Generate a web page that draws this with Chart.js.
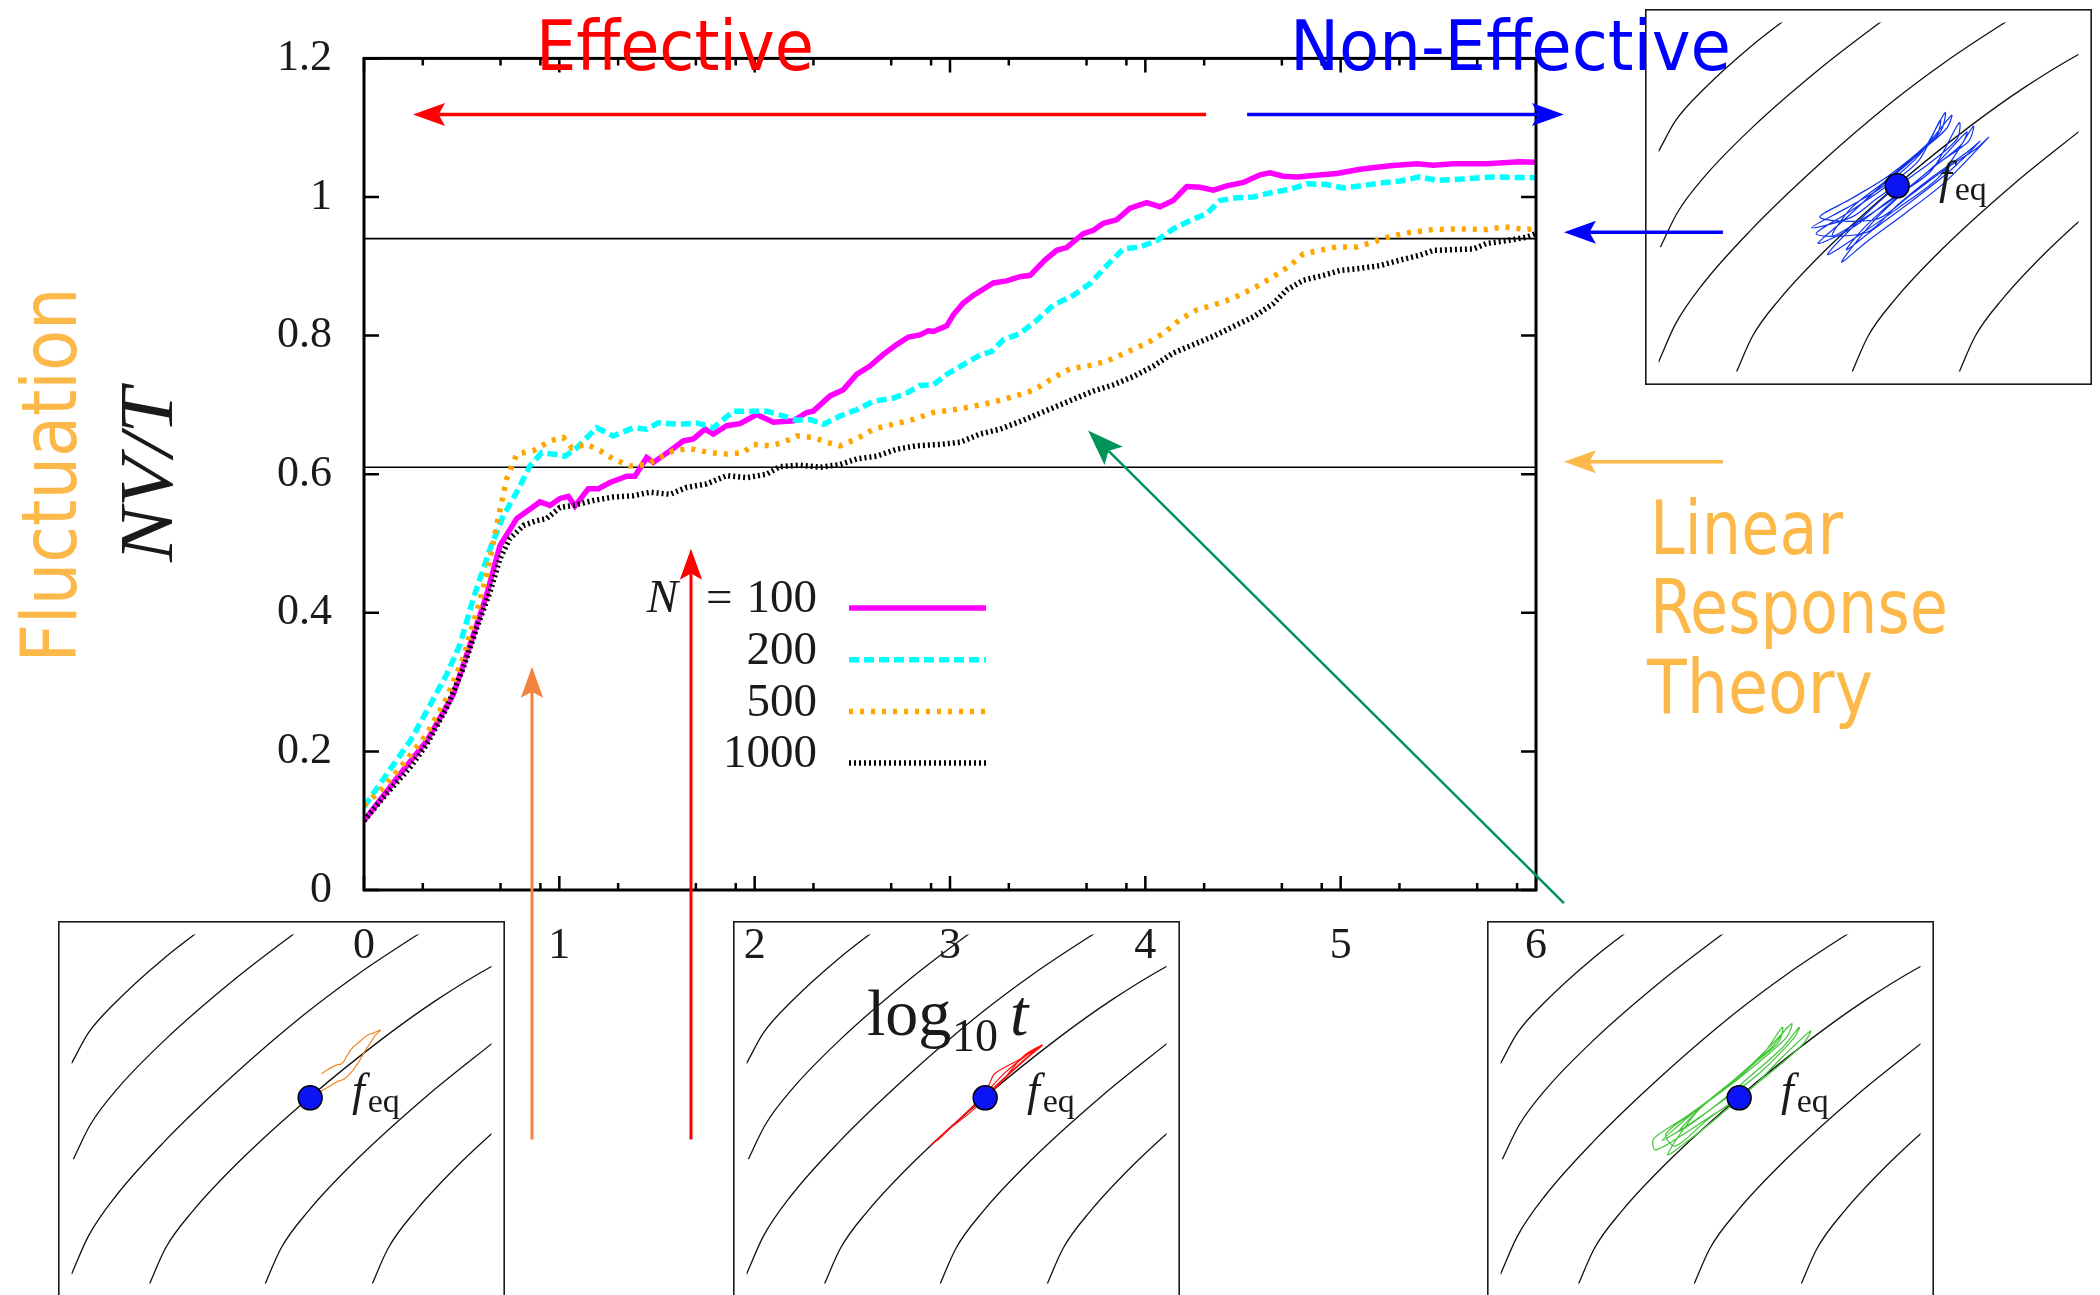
<!DOCTYPE html>
<html>
<head>
<meta charset="utf-8">
<script src="https://cdn.jsdelivr.net/npm/chart.js@4.4.1/dist/chart.umd.min.js"></script>
<style>
  html, body { margin: 0; padding: 0; background: #fff; }
  #page { position: relative; width: 2100px; height: 1295px; overflow: hidden; background: #fff; }
  .inset { position: absolute; z-index: 1; }
  #main { position: absolute; left: 0; top: 0; z-index: 2; }
  #notes { position: absolute; left: 0; top: 0; z-index: 3; pointer-events: none; }
</style>
</head>
<body>
<div id="page">
  <canvas id="main" width="2100" height="1295"></canvas>
  <svg id="notes" width="2100" height="1295" xmlns="http://www.w3.org/2000/svg">
    <g font-family="'DejaVu Sans Condensed','DejaVu Sans',sans-serif" style="font-stretch:condensed">
      <text x="536" y="70" font-size="70" fill="#ff0000" textLength="278" lengthAdjust="spacingAndGlyphs">Effective</text>
      <text x="1290" y="70" font-size="70" fill="#0000ff" textLength="441" lengthAdjust="spacingAndGlyphs">Non-Effective</text>
      <text transform="translate(76,475) rotate(-90)" text-anchor="middle" font-size="76" fill="#fcb94a" textLength="375" lengthAdjust="spacingAndGlyphs">Fluctuation</text>
      <text x="1650" y="554" font-size="75" fill="#fcb94a" textLength="193" lengthAdjust="spacingAndGlyphs">Linear</text>
      <text x="1650" y="633" font-size="75" fill="#fcb94a" textLength="298" lengthAdjust="spacingAndGlyphs">Response</text>
      <text x="1647" y="713" font-size="75" fill="#fcb94a" textLength="226" lengthAdjust="spacingAndGlyphs">Theory</text>
    </g>
    <g font-family="'Liberation Serif',serif" fill="#1a1a1a">
      <text transform="translate(172,475) rotate(-90)" text-anchor="middle" font-size="76" font-style="italic" textLength="174" lengthAdjust="spacingAndGlyphs">NV/T</text>
      <text x="867" y="1035" font-size="66">log</text>
      <text x="952" y="1051" font-size="46">10</text>
      <text x="1010" y="1035" font-size="66" font-style="italic">t</text>
    </g>
    <g id="feq" font-family="'Liberation Serif',serif" fill="#1a1a1a"></g>
  </svg>
</div>
<script>
// x = log10 t, y = NV/T
const n100 = [[0,.100],[.184,.167],[.321,.215],[.457,.282],[.560,.368],[.628,.426],[.696,.497],[.782,.536],[.901,.560],[.952,.555],[1.003,.565],[1.046,.568],[1.080,.554],[1.148,.579],[1.200,.579],[1.259,.588],[1.345,.597],[1.387,.597],[1.447,.624],[1.481,.617],[1.567,.634],[1.635,.648],[1.686,.651],[1.746,.665],[1.788,.658],[1.857,.670],[1.925,.673],[2.010,.686],[2.096,.675],[2.198,.677],[2.266,.689],[2.300,.691],[2.386,.713],[2.454,.722],[2.522,.744],[2.590,.756],[2.659,.773],[2.727,.787],[2.787,.798],[2.846,.801],[2.889,.807],[2.915,.806],[2.983,.814],[3.017,.830],[3.068,.847],[3.119,.858],[3.222,.876],[3.290,.879],[3.358,.885],[3.410,.887],[3.486,.909],[3.546,.923],[3.597,.927],[3.682,.947],[3.734,.952],[3.785,.962],[3.853,.967],[3.922,.984],[4.007,.992],[4.075,.986],[4.143,.995],[4.212,1.015],[4.280,1.014],[4.348,1.010],[4.417,1.016],[4.502,1.021],[4.587,1.032],[4.638,1.035],[4.706,1.030],[4.775,1.029],[4.860,1.031],[4.980,1.034],[5.099,1.040],[5.253,1.045],[5.389,1.048],[5.474,1.046],[5.577,1.048],[5.748,1.048],[5.918,1.051],[6.0,1.050]];
const n200 = [[0,.120],[.116,.167],[.236,.215],[.321,.258],[.423,.311],[.491,.354],[.560,.421],[.645,.492],[.713,.540],[.782,.574],[.850,.612],[.909,.631],[.969,.629],[1.029,.626],[1.089,.638],[1.191,.667],[1.276,.655],[1.379,.667],[1.447,.665],[1.507,.674],[1.618,.672],[1.703,.674],[1.788,.667],[1.891,.691],[1.976,.691],[2.061,.691],[2.147,.684],[2.215,.678],[2.283,.679],[2.352,.672],[2.437,.684],[2.522,.693],[2.607,.705],[2.710,.710],[2.778,.717],[2.846,.728],[2.915,.729],[2.983,.744],[3.068,.758],[3.154,.772],[3.213,.777],[3.273,.794],[3.358,.803],[3.444,.822],[3.529,.844],[3.631,.858],[3.717,.875],[3.802,.901],[3.887,.925],[3.973,.928],[4.058,.937],[4.143,.954],[4.229,.966],[4.314,.976],[4.382,.995],[4.468,.999],[4.553,1.0],[4.655,1.007],[4.741,1.011],[4.826,1.019],[4.929,1.018],[5.014,1.013],[5.099,1.016],[5.201,1.020],[5.304,1.023],[5.406,1.029],[5.491,1.024],[5.628,1.026],[5.782,1.029],[5.918,1.028],[6.0,1.028]];
const n500 = [[0,.122],[.082,.143],[.201,.182],[.321,.225],[.423,.277],[.508,.335],[.577,.402],[.628,.454],[.679,.526],[.730,.593],[.782,.629],[.867,.634],[.952,.648],[1.020,.653],[1.063,.638],[1.140,.643],[1.208,.634],[1.276,.622],[1.362,.612],[1.447,.614],[1.515,.624],[1.584,.634],[1.669,.637],[1.771,.631],[1.857,.629],[1.942,.631],[1.993,.643],[2.078,.641],[2.147,.646],[2.215,.655],[2.300,.653],[2.369,.646],[2.437,.641],[2.522,.651],[2.607,.665],[2.710,.672],[2.812,.679],[2.915,.689],[3.017,.693],[3.119,.698],[3.222,.704],[3.324,.712],[3.427,.721],[3.529,.739],[3.614,.752],[3.717,.757],[3.802,.763],[3.905,.776],[4.007,.789],[4.092,.803],[4.177,.823],[4.263,.837],[4.348,.844],[4.450,.854],[4.553,.868],[4.655,.885],[4.741,.901],[4.809,.918],[4.894,.923],[4.980,.928],[5.082,.928],[5.168,.935],[5.253,.943],[5.355,.949],[5.474,.953],[5.611,.954],[5.748,.953],[5.833,.957],[5.952,.953],[6.0,.955]];
const n1000 = [[0,.100],[.116,.139],[.236,.177],[.321,.210],[.423,.263],[.508,.320],[.577,.378],[.645,.430],[.696,.478],[.747,.507],[.816,.526],[.884,.533],[.935,.536],[1.003,.552],[1.072,.555],[1.174,.562],[1.276,.567],[1.379,.569],[1.464,.574],[1.567,.571],[1.652,.581],[1.754,.586],[1.857,.598],[1.959,.595],[2.061,.600],[2.130,.611],[2.232,.613],[2.335,.610],[2.437,.614],[2.522,.622],[2.624,.626],[2.727,.636],[2.829,.641],[2.949,.643],[3.051,.646],[3.154,.658],[3.256,.665],[3.358,.676],[3.444,.686],[3.529,.696],[3.631,.708],[3.734,.720],[3.836,.729],[3.939,.741],[4.041,.756],[4.143,.775],[4.246,.787],[4.348,.799],[4.450,.813],[4.553,.827],[4.655,.846],[4.724,.866],[4.809,.880],[4.912,.887],[4.997,.894],[5.099,.897],[5.201,.901],[5.304,.909],[5.406,.916],[5.474,.923],[5.577,.924],[5.679,.925],[5.748,.933],[5.850,.937],[5.952,.942],[6.0,.947]];

const sizes = [100, 200, 500, 1000];
const series = [n100, n200, n500, n1000];
const theoryLevels = [0.94, 0.61];
const xTicks = [0, 1, 2, 3, 4, 5, 6];
const minorSteps = [2, 5, 8];

const lineColors = ['#ff00ff', '#00ffff', '#ffa500', '#000000'];
const lineDashes = [[], [10, 5], [4, 7], [2, 3]];

// annotation arrows, in data units of the main axes
const arrowNotes = [
  { from: [4.311, 1.119], to: [0.251, 1.119], color: '#ff0000', width: 3.5, head: 32 },
  { from: [4.521, 1.119], to: [6.143, 1.119], color: '#0000ff', width: 3.5, head: 32 },
  { from: [6.957, 0.949], to: [6.143, 0.949], color: '#0000ff', width: 3.5, head: 32 },
  { from: [6.957, 0.618], to: [6.143, 0.618], color: '#fcb94a', width: 3.5, head: 32 },
  { from: [6.143, -0.019], to: [3.707, 0.663], color: '#00935a', width: 2.5, head: 36 },
  { from: [0.860, -0.360], to: [0.860, 0.322], color: '#f3843f', width: 3, head: 31 },
  { from: [1.674, -0.360], to: [1.674, 0.4925], color: '#ff0000', width: 3, head: 31 }
];

// inset: level curves and trajectories, local px of a 447x376 box (y down)
const contours = [
  [[0,139],[18,106],[47,73],[98,26],[172,-31]],
  [[2,242],[20,205],[49,166],[100,113],[174,48],[250,-11]],
  [[0,366],[18,325],[47,282],[98,224],[172,152],[248,86],[306,42],[364,3],[400,-20]],
  [[82,379],[100,338],[129,298],[180,243],[254,175],[330,113],[388,71],[446,35],[502,7]],
  [[205,379],[223,338],[252,298],[303,243],[377,175],[453,113]],
  [[319,379],[337,338],[366,298],[417,243],[491,175]]
];
const fEq = [[254, 176]];
const blueTrail = [[254,174],[232,190],[205,210],[163,221],[200,200],[240,176],[280,140],[305,97],[300,118],[270,148],[235,178],[195,215],[170,238],[205,222],[245,192],[290,160],[320,108],[318,125],[288,152],[250,180],[215,212],[180,250],[215,228],[255,200],[300,165],[335,112],[330,128],[300,150],[262,182],[228,215],[195,258],[222,236],[262,206],[305,172],[351,124],[338,136],[305,158],[268,186],[232,212],[172,210],[205,190],[245,165],[285,132],[312,100],[306,115],[275,142],[240,172],[205,200],[185,230],[220,210],[258,184],[296,152],[328,118],[322,132],[290,158],[252,190],[218,222],[200,245],[230,222],[270,192],[310,160],[342,128],[328,140],[292,166],[255,196],[222,226],[168,228],[200,206],[238,180],[276,150],[300,105],[296,122],[266,150],[232,180],[198,212],[190,215]];
const orangeTrail = [[258,173],[272,165],[284,158],[290,156],[299,147],[306,137],[312,126],[318,117],[323,109],[329,103],[322,106],[314,109],[306,116],[299,122],[293,131],[288,139],[281,141],[272,146],[266,150]];
const redTrail = [[254,177],[280,150],[300,132],[315,119],[296,130],[270,160],[240,190],[215,210],[196,227],[220,205],[248,178],[276,148],[306,124],[312,121],[290,135],[264,150],[258,162],[240,186],[210,214],[203,222],[230,196],[262,166],[290,140],[314,119]];
const greenTrail = [[254,177],[225,195],[195,215],[165,232],[163,220],[195,198],[230,172],[265,142],[292,115],[310,96],[305,110],[278,135],[245,162],[210,190],[178,237],[200,222],[232,196],[268,165],[300,132],[330,104],[322,118],[292,145],[258,172],[222,198],[186,228],[176,215],[208,190],[245,160],[280,128],[300,100],[296,116],[266,142],[232,170],[196,200],[172,222],[200,205],[238,178],[275,150],[312,112],[318,100],[300,122],[262,156],[228,185],[190,212],[215,185],[252,155],[290,120],[305,100]];

const insets = [
  { left: 1645, top: 9, trail: blueTrail, color: '#1133ee' },
  { left: 58, top: 921, trail: orangeTrail, color: '#f08a24' },
  { left: 733, top: 921, trail: redTrail, color: '#ff1010' },
  { left: 1487, top: 921, trail: greenTrail, color: '#44c638' }
];

const toXY = arr => arr.map(([x, y]) => ({ x, y }));
const serif = "'Liberation Serif', serif";

const frame = {
  id: 'frame',
  afterDatasetsDraw(chart) {
    const { ctx, chartArea: a, scales: { x, y } } = chart;
    ctx.save();
    ctx.strokeStyle = '#000';
    ctx.lineWidth = 2.5;
    ctx.beginPath();
    xTicks.forEach(v => {
      const px = x.getPixelForValue(v);
      ctx.moveTo(px, a.bottom); ctx.lineTo(px, a.bottom - 14);
      ctx.moveTo(px, a.top); ctx.lineTo(px, a.top + 14);
      if (v < 6) minorSteps.forEach(m => {
        const mx = x.getPixelForValue(v + Math.log10(m));
        ctx.moveTo(mx, a.bottom); ctx.lineTo(mx, a.bottom - 7);
        ctx.moveTo(mx, a.top); ctx.lineTo(mx, a.top + 7);
      });
    });
    y.ticks.forEach(t => {
      const py = y.getPixelForValue(t.value);
      ctx.moveTo(a.left, py); ctx.lineTo(a.left + 15, py);
      ctx.moveTo(a.right, py); ctx.lineTo(a.right - 15, py);
    });
    ctx.stroke();
    ctx.lineWidth = 3;
    ctx.strokeRect(a.left, a.top, a.right - a.left, a.bottom - a.top);
    ctx.restore();
  }
};

const keyBox = {
  id: 'keyBox',
  afterDraw(chart) {
    const ctx = chart.ctx;
    const textRight = 817, lineL = 849, lineR = 986, row0 = 600, rowGap = 51.7;
    ctx.save();
    ctx.fillStyle = '#1a1a1a';
    ctx.textBaseline = 'middle';
    ctx.textAlign = 'right';
    chart.data.datasets.filter(d => d.isSeries).forEach((d, i) => {
      const yy = row0 + i * rowGap;
      ctx.font = '47px ' + serif;
      ctx.fillText(d.label, textRight, yy);
      if (i === 0) {
        const eqRight = textRight - ctx.measureText(d.label).width - 14;
        ctx.fillText('=', eqRight, yy);
        const nRight = eqRight - ctx.measureText('=').width - 28;
        ctx.font = 'italic 47px ' + serif;
        ctx.fillText('N', nRight, yy);
      }
      ctx.strokeStyle = d.borderColor;
      ctx.lineWidth = d.borderWidth;
      ctx.setLineDash(d.borderDash);
      ctx.beginPath();
      ctx.moveTo(lineL, yy + 8);
      ctx.lineTo(lineR, yy + 8);
      ctx.stroke();
      ctx.setLineDash([]);
    });
    ctx.restore();
  }
};

const arrows = {
  id: 'arrows',
  afterDraw(chart) {
    const { ctx, scales: { x, y } } = chart;
    ctx.save();
    arrowNotes.forEach(n => {
      const x0 = x.getPixelForValue(n.from[0]), y0 = y.getPixelForValue(n.from[1]);
      const x1 = x.getPixelForValue(n.to[0]), y1 = y.getPixelForValue(n.to[1]);
      const len = Math.hypot(x1 - x0, y1 - y0);
      const ux = (x1 - x0) / len, uy = (y1 - y0) / len;
      const hw = n.head * 0.36;
      const bx = x1 - ux * n.head, by = y1 - uy * n.head;
      ctx.strokeStyle = n.color;
      ctx.fillStyle = n.color;
      ctx.lineWidth = n.width;
      ctx.beginPath();
      ctx.moveTo(x0, y0);
      ctx.lineTo(x1 - ux * n.head * 0.8, y1 - uy * n.head * 0.8);
      ctx.stroke();
      ctx.beginPath();
      ctx.moveTo(x1, y1);
      ctx.lineTo(bx - uy * hw, by + ux * hw);
      ctx.lineTo(x1 - ux * n.head * 0.8, y1 - uy * n.head * 0.8);
      ctx.lineTo(bx + uy * hw, by - ux * hw);
      ctx.closePath();
      ctx.fill();
    });
    ctx.restore();
  }
};

const datasets = series.map((s, i) => ({
  label: String(sizes[i]),
  isSeries: true,
  data: toXY(s),
  borderColor: lineColors[i],
  borderWidth: 5.5,
  borderDash: lineDashes[i],
  pointRadius: 0,
  tension: 0,
  fill: false,
  order: 4 - i
}));
theoryLevels.forEach(v => datasets.push({
  label: 'level',
  data: [{ x: 0, y: v }, { x: 6, y: v }],
  borderColor: '#000',
  borderWidth: 1.6,
  pointRadius: 0,
  fill: false,
  order: 10
}));

new Chart(document.getElementById('main'), {
  type: 'line',
  data: { datasets },
  options: {
    responsive: false,
    animation: false,
    devicePixelRatio: 1,
    layout: { padding: { left: 0, top: 54, right: 564, bottom: 0 } },
    plugins: { legend: { display: false }, tooltip: { enabled: false } },
    scales: {
      x: {
        type: 'linear', min: 0, max: 6,
        grid: { display: false, drawTicks: false },
        border: { display: false },
        afterFit: s => { s.height = 405; },
        afterBuildTicks: s => { s.ticks = xTicks.map(v => ({ value: v })); },
        ticks: { padding: 30, color: '#1a1a1a', font: { family: serif, size: 44 }, callback: v => String(v), maxRotation: 0 }
      },
      y: {
        type: 'linear', min: 0, max: 1.2,
        grid: { display: false, drawTicks: false },
        border: { display: false },
        afterFit: s => { s.width = 364; },
        ticks: { stepSize: 0.2, padding: 32, color: '#1a1a1a', font: { family: serif, size: 44 }, callback: v => String(Math.round(v * 10) / 10) }
      }
    }
  },
  plugins: [frame, keyBox, arrows]
});

const insetFrame = {
  id: 'insetFrame',
  afterDraw(chart) {
    const { ctx, width, height } = chart;
    ctx.save();
    ctx.strokeStyle = '#1a1a1a';
    ctx.lineWidth = 1.6;
    ctx.strokeRect(0.8, 0.8, width - 1.6, height - 1.6);
    ctx.restore();
  }
};

const page = document.getElementById('page');
const feqGroup = document.getElementById('feq');
insets.forEach(ins => {
  const cv = document.createElement('canvas');
  cv.className = 'inset';
  cv.width = 447; cv.height = 376;
  cv.style.left = ins.left + 'px';
  cv.style.top = ins.top + 'px';
  page.appendChild(cv);

  const sets = contours.map(c => ({
    data: toXY(c), borderColor: '#111', borderWidth: 1.3, pointRadius: 0,
    showLine: true, cubicInterpolationMode: 'monotone', order: 3
  }));
  sets.push({ data: toXY(ins.trail), borderColor: ins.color, borderWidth: 1.2, pointRadius: 0, showLine: true, tension: 0.3, order: 2 });
  sets.push({ data: toXY(fEq), pointRadius: 12, backgroundColor: '#0a14f5', borderColor: '#000', borderWidth: 1.5, showLine: false, order: 1 });

  new Chart(cv, {
    type: 'scatter',
    data: { datasets: sets },
    options: {
      responsive: false, animation: false, devicePixelRatio: 1,
      layout: { padding: 0 },
      plugins: { legend: { display: false }, tooltip: { enabled: false } },
      scales: {
        x: { type: 'linear', min: 0, max: 447, display: false },
        y: { type: 'linear', min: 0, max: 376, reverse: true, display: false }
      }
    },
    plugins: [insetFrame]
  });

  const ns = 'http://www.w3.org/2000/svg';
  const t = document.createElementNS(ns, 'text');
  t.setAttribute('x', ins.left + 294);
  t.setAttribute('y', ins.top + 184);
  t.setAttribute('font-size', '46');
  const f = document.createElementNS(ns, 'tspan');
  f.setAttribute('font-style', 'italic');
  f.textContent = 'f';
  const sub = document.createElementNS(ns, 'tspan');
  sub.setAttribute('font-size', '34');
  sub.setAttribute('dy', '7');
  sub.setAttribute('dx', '3');
  sub.textContent = 'eq';
  t.appendChild(f);
  t.appendChild(sub);
  feqGroup.appendChild(t);
});
</script>
</body>
</html>
